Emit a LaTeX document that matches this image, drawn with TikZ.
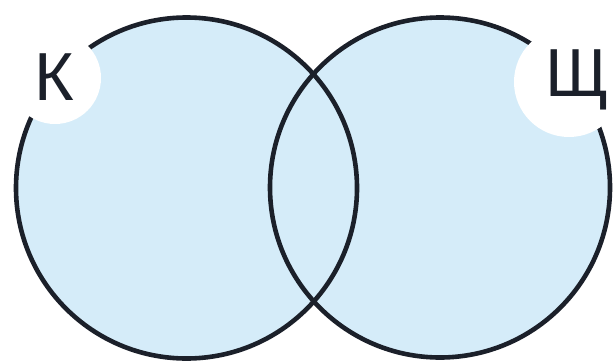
\documentclass[tikz,border=0pt]{standalone}
\usepackage{fontspec}
\setmainfont{Liberation Sans}
\definecolor{setfill}{HTML}{D5ECF9}
\definecolor{setline}{HTML}{1B202A}
\tikzset{
  setcircle/.style={draw=setline, line width=4.6pt},
  labeldisk/.style={fill=white, draw=none},
  setlabel/.style={font=\fontsize{68}{68}\selectfont, text=setline, inner sep=0pt}
}
\begin{document}
\begin{tikzpicture}[x=1pt,y=-1pt]
\useasboundingbox (0,0) rectangle (616,364);
\fill[white] (0,0) rectangle (616,364);
\coordinate (cK) at (186.5,188);
\coordinate (cS) at (440,187.5);
\fill[setfill] (cK) circle (170.5);
\fill[setfill] (cS) circle (170);
\draw[setcircle] (cK) circle (170.5);
\draw[setcircle] (cS) circle (170);
\fill[labeldisk] (55,78) circle (46);
\fill[labeldisk] (569,82) circle (55);
\node[setlabel] (K) at (54,77) {К};
\node[setlabel] (S) at (577,80) {Щ};
\end{tikzpicture}
\end{document}
